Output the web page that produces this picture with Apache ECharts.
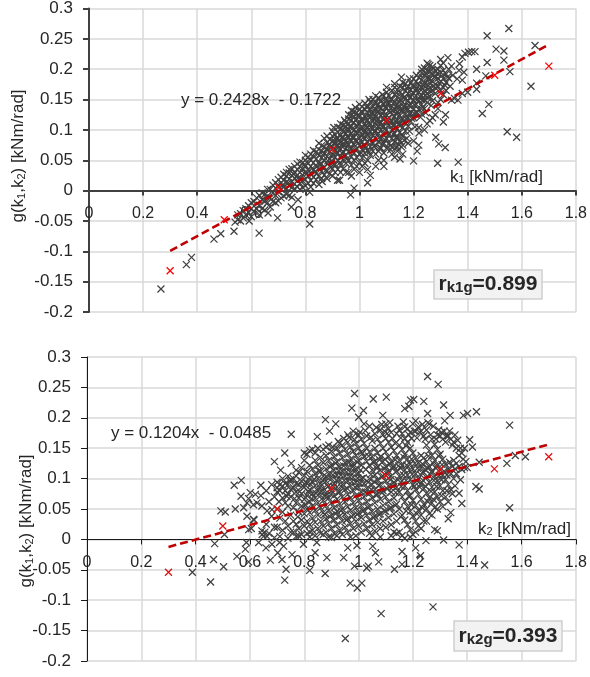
<!DOCTYPE html>
<html><head><meta charset="utf-8">
<script src="https://cdn.jsdelivr.net/npm/echarts@6/dist/echarts.min.js"></script>
<style>html,body{margin:0;padding:0;background:#fff}#c{width:590px;height:677px}</style></head>
<body><div id="c"></div>
<script>
const xTicksMin = 0, xTicksMax = 1.8, yTicksMin = -0.2, yTicksMax = 0.3;
const k1Outliers = [[.266,-.162],[.36,-.122],[.379,-.11],[.462,-.08],[.487,-.071],[.536,-.067],[.629,-.07],[.697,-.045],[.592,-.05],[.662,-.037],[.748,-.027],[1.552,.267],[1.472,.255],[1.649,.239],[1.505,.233],[1.534,.23],[1.534,.215],[1.472,.211],[1.556,.196],[1.433,.2],[1.467,.189],[1.634,.172],[1.433,.177],[1.433,.167],[1.478,.142],[1.454,.127],[1.546,.097],[1.581,.088],[1.365,.047],[1.289,.045],[1.317,.071],[1.293,.077],[1.282,.088],[1.2,.049],[1.213,.065],[1.219,.075],[1.219,.104],[1.318,.125],[1.31,.113],[1.03,.013],[.98,.004],[.967,-.007],[.919,.017],[.926,.017],[.816,-.055],[.773,-.015],[.816,-.003],[.862,.015],[1.327,.219],[1.155,.187],[1.254,.208],[1.38,.22],[1.39,.226],[1.403,.228],[1.415,.229],[1.427,.229],[1.37,.209],[1.368,.198],[1.386,.195],[1.361,.184],[1.38,.182],[1.351,.152],[1.34,.149],[1.364,.149],[1.38,.16],[1.4,.162],[1.07,.05],[1.09,.05],[1.12,.06],[1.13,.055],[1.15,.052],[1.16,.06],[1.14,.065],[1.09,.04],[1.06,.04],[1.03,.035],[1.04,.025]];
const k1Cloud = [[.54,-.052],[.55,-.048],[.55,-.04],[.56,-.05],[.56,-.038],[.57,-.045],[.57,-.033],[.58,-.04],[.58,-.03],[.59,-.036],[.59,-.025],[.6,-.043],[.6,-.03],[.6,-.02],[.61,-.034],[.61,-.018],[.62,-.03],[.62,-.012],[.63,-.04],[.63,-.024],[.63,-.008],[.64,-.03],[.64,-.015],[.64,-.004],[.65,-.032],[.65,-.018],[.65,-.006],[.66,-.02],[.66,-.009],[.66,.002],[.67,-.027],[.67,-.012],[.67,.002],[.68,-.018],[.68,-.004],[.68,.009],[.69,-.02],[.69,-.008],[.69,.004],[.69,.013],[.7,-.017],[.7,-.002],[.7,.009],[.7,.018],[.71,-.012],[.71,.002],[.71,.013],[.71,.022],[.72,-.009],[.72,.006],[.72,.017],[.72,.027],[.73,-.006],[.73,.004],[.73,.014],[.73,.024],[.73,.03],[.74,-.008],[.74,.008],[.74,.019],[.74,.029],[.74,.035],[.75,-.011],[.75,.005],[.75,.015],[.75,.025],[.75,.036],[.76,.003],[.76,.011],[.76,.02],[.76,.03],[.76,.04],[.77,.006],[.77,.016],[.77,.026],[.77,.035],[.77,.044],[.78,.002],[.78,.012],[.78,.02],[.78,.03],[.78,.04],[.78,.047],[.79,.005],[.79,.016],[.79,.026],[.79,.036],[.79,.046],[.8,.008],[.8,.018],[.8,.03],[.8,.04],[.8,.05],[.81,.012],[.81,.024],[.81,.034],[.81,.045],[.81,.055],[.82,.006],[.82,.017],[.82,.028],[.82,.04],[.82,.05],[.82,.06],[.83,.012],[.83,.022],[.83,.034],[.83,.046],[.83,.056],[.84,.018],[.84,.028],[.84,.04],[.84,.052],[.84,.064],[.85,.01],[.85,.024],[.85,.036],[.85,.047],[.85,.058],[.85,.068],[.86,.02],[.86,.032],[.86,.044],[.86,.054],[.86,.065],[.86,.074],[.87,.026],[.87,.038],[.87,.05],[.87,.062],[.87,.072],[.88,.02],[.88,.032],[.88,.044],[.88,.056],[.88,.068],[.88,.079],[.89,.028],[.89,.04],[.89,.052],[.89,.064],[.89,.076],[.89,.084],[.9,.024],[.9,.036],[.9,.048],[.9,.06],[.9,.072],[.9,.082],[.9,.09],[.91,.03],[.91,.043],[.91,.055],[.91,.068],[.91,.08],[.91,.092],[.92,.035],[.92,.05],[.92,.062],[.92,.074],[.92,.086],[.92,.096],[.93,.03],[.93,.042],[.93,.056],[.93,.068],[.93,.08],[.93,.092],[.93,.102],[.94,.036],[.94,.05],[.94,.064],[.94,.076],[.94,.088],[.94,.1],[.94,.108],[.95,.03],[.95,.045],[.95,.058],[.95,.07],[.95,.082],[.95,.094],[.95,.106],[.95,.112],[.96,.03],[.96,.05],[.96,.064],[.96,.076],[.96,.088],[.96,.1],[.96,.11],[.96,.118],[.97,.024],[.97,.042],[.97,.056],[.97,.07],[.97,.082],[.97,.094],[.97,.106],[.97,.116],[.97,.124],[.98,.035],[.98,.05],[.98,.062],[.98,.076],[.98,.088],[.98,.1],[.98,.112],[.98,.122],[.98,.13],[.99,.04],[.99,.055],[.99,.068],[.99,.082],[.99,.094],[.99,.106],[.99,.118],[.99,.128],[1,.03],[1,.046],[1,.06],[1,.074],[1,.086],[1,.098],[1,.11],[1,.122],[1,.134],[1.01,.04],[1.01,.054],[1.01,.068],[1.01,.08],[1.01,.092],[1.01,.104],[1.01,.116],[1.01,.128],[1.01,.138],[1.02,.045],[1.02,.062],[1.02,.074],[1.02,.086],[1.02,.098],[1.02,.11],[1.02,.122],[1.02,.134],[1.03,.05],[1.03,.066],[1.03,.08],[1.03,.092],[1.03,.104],[1.03,.116],[1.03,.128],[1.03,.14],[1.04,.058],[1.04,.072],[1.04,.086],[1.04,.098],[1.04,.11],[1.04,.122],[1.04,.134],[1.04,.146],[1.05,.065],[1.05,.078],[1.05,.09],[1.05,.102],[1.05,.114],[1.05,.126],[1.05,.138],[1.05,.15],[1.06,.06],[1.06,.074],[1.06,.086],[1.06,.098],[1.06,.11],[1.06,.122],[1.06,.134],[1.06,.146],[1.07,.065],[1.07,.08],[1.07,.094],[1.07,.106],[1.07,.118],[1.07,.13],[1.07,.142],[1.07,.153],[1.08,.07],[1.08,.086],[1.08,.1],[1.08,.112],[1.08,.124],[1.08,.136],[1.08,.148],[1.09,.062],[1.09,.078],[1.09,.092],[1.09,.106],[1.09,.118],[1.09,.13],[1.09,.142],[1.09,.156],[1.1,.07],[1.1,.086],[1.1,.1],[1.1,.112],[1.1,.124],[1.1,.136],[1.1,.148],[1.1,.162],[1.11,.078],[1.11,.094],[1.11,.108],[1.11,.12],[1.11,.132],[1.11,.144],[1.11,.156],[1.12,.072],[1.12,.086],[1.12,.1],[1.12,.114],[1.12,.126],[1.12,.138],[1.12,.15],[1.12,.165],[1.13,.08],[1.13,.094],[1.13,.108],[1.13,.122],[1.13,.134],[1.13,.146],[1.13,.158],[1.13,.17],[1.14,.088],[1.14,.102],[1.14,.116],[1.14,.13],[1.14,.142],[1.14,.154],[1.14,.166],[1.15,.082],[1.15,.096],[1.15,.11],[1.15,.124],[1.15,.138],[1.15,.15],[1.15,.162],[1.15,.172],[1.16,.09],[1.16,.104],[1.16,.118],[1.16,.132],[1.16,.146],[1.16,.158],[1.16,.17],[1.17,.098],[1.17,.112],[1.17,.126],[1.17,.14],[1.17,.152],[1.17,.164],[1.17,.176],[1.18,.106],[1.18,.12],[1.18,.134],[1.18,.148],[1.18,.16],[1.18,.172],[1.19,.114],[1.19,.128],[1.19,.142],[1.19,.154],[1.19,.166],[1.19,.178],[1.2,.12],[1.2,.134],[1.2,.148],[1.2,.16],[1.2,.172],[1.2,.184],[1.21,.128],[1.21,.142],[1.21,.156],[1.21,.168],[1.21,.18],[1.22,.134],[1.22,.148],[1.22,.162],[1.22,.174],[1.22,.186],[1.23,.126],[1.23,.142],[1.23,.156],[1.23,.17],[1.23,.182],[1.23,.194],[1.24,.135],[1.24,.15],[1.24,.164],[1.24,.178],[1.24,.19],[1.24,.202],[1.25,.145],[1.25,.16],[1.25,.174],[1.25,.186],[1.25,.198],[1.25,.21],[1.26,.155],[1.26,.17],[1.26,.184],[1.26,.196],[1.26,.206],[1.27,.148],[1.27,.165],[1.27,.18],[1.27,.192],[1.27,.204],[1.28,.16],[1.28,.175],[1.28,.188],[1.28,.198],[1.29,.145],[1.29,.172],[1.29,.185],[1.29,.2],[1.3,.165],[1.3,.18],[1.3,.195],[1.3,.206],[1.31,.17],[1.31,.184],[1.31,.198],[1.32,.178],[1.32,.192],[1.33,.185]];
const k1Fill = [[.713,.008],[.737,.013],[.757,.027],[.773,.021],[.786,.033],[.797,.043],[.807,.029],[.816,.052],[.826,.037],[.836,.031],[.847,.061],[.853,.043],[.866,.058],[.874,.033],[.877,.068],[.883,.049],[.893,.071],[.896,.057],[.904,.043],[.907,.077],[.913,.062],[.917,.087],[.923,.071],[.928,.046],[.934,.087],[.937,.061],[.943,.097],[.947,.076],[.953,.052],[.955,.089],[.963,.105],[.965,.071],[.973,.088],[.977,.112],[.984,.067],[.987,.097],[.993,.123],[.995,.078],[1.004,.103],[1.006,.062],[1.008,.131],[1.013,.087],[1.017,.117],[1.024,.071],[1.026,.097],[1.028,.137],[1.034,.112],[1.037,.083],[1.043,.127],[1.046,.093],[1.053,.073],[1.055,.118],[1.057,.143],[1.064,.103],[1.066,.13],[1.073,.087],[1.075,.113],[1.077,.147],[1.084,.127],[1.086,.076],[1.093,.101],[1.095,.137],[1.097,.152],[1.103,.117],[1.106,.091],[1.113,.129],[1.116,.151],[1.123,.107],[1.125,.143],[1.134,.087],[1.136,.127],[1.138,.161],[1.144,.109],[1.147,.146],[1.153,.131],[1.156,.092],[1.163,.153],[1.165,.113],[1.173,.135],[1.175,.169],[1.183,.127],[1.186,.153],[1.193,.119],[1.196,.173],[1.203,.141],[1.207,.165],[1.213,.129],[1.216,.176],[1.224,.155],[1.227,.189],[1.234,.137],[1.237,.173],[1.244,.157],[1.247,.193],[1.254,.167],[1.257,.183],[1.264,.163],[1.267,.198],[1.273,.172],[1.277,.187],[1.284,.168],[1.287,.193],[1.295,.177],[1.304,.189],[1.315,.174],[1.325,.187],[.985,.083],[1.005,.117],[1.015,.075],[1.035,.063],[1.055,.097],[1.075,.071],[1.095,.083],[1.115,.067],[1.125,.093],[1.145,.076],[1.165,.083],[1.185,.098],[1.205,.105],[1.225,.121],[1.245,.128],[1.265,.14],[1.115,.074],[1.135,.071],[1.155,.072],[1.175,.086]];
const k1Edge = [[.8,.058],[.83,.066],[.85,.078],[.87,.086],[.88,.09],[.9,.098],[.905,.104],[.92,.104],[.93,.11],[.945,.116],[.96,.125],[.97,.132],[.985,.137],[1,.142],[1.02,.144],[1.035,.15],[1.06,.156],[1.085,.158],[1.1,.17],[1.13,.176],[1.16,.178],[1.185,.184],[1.21,.19],[1.23,.2],[1.3,.216],[1.31,.21],[1.33,.2],[1.335,.172],[1.345,.19],[1.34,.205],[1.32,.165],[1.31,.158],[1.3,.15],[1.29,.135],[1.28,.125],[1.27,.12],[1.26,.115],[1.25,.11],[1.24,.1],[1.22,.095],[1.2,.082],[1.18,.078],[1.16,.075],[1.14,.072],[.915,.074],[.925,.083],[.935,.073],[.945,.085],[.955,.098],[.965,.083],[.975,.103],[.995,.111],[1.012,.098],[1.022,.106],[1.032,.123],[1.042,.104],[1.052,.133],[1.062,.115],[1.072,.137],[1.082,.106],[1.092,.124],[1.102,.143],[1.112,.113],[1.122,.132],[1.132,.115],[1.142,.137],[1.152,.117],[1.162,.139],[1.172,.119],[1.182,.141],[1.192,.159],[1.202,.127],[1.212,.149],[1.222,.168],[1.232,.149],[1.242,.171],[1.252,.153],[1.262,.176]];
const k2Outliers = [[1.254,.268],[1.293,.255],[.985,.24],[1.054,.231],[1.102,.234],[.975,.216],[1.018,.212],[.878,.197],[.916,.19],[.893,.178],[.848,.169],[1.089,.204],[1,.201],[1.191,.229],[1.203,.23],[1.24,.227],[1.185,.219],[1.17,.215],[1.313,.221],[1.254,.207],[1.337,.204],[1.317,.195],[1.386,.204],[1.401,.207],[1.434,.21],[1.556,.188],[1.409,.164],[1.419,.152],[1.444,.127],[1.577,.138],[1.614,.136],[1.546,.125],[1.432,.087],[1.444,.083],[1.556,.052],[1.37,.076],[1.38,.059],[1.339,.044],[1.33,.034],[1.248,-.002],[1.313,-.001],[1.37,-.009],[1.464,-.042],[1.274,-.111],[1.083,-.122],[.951,-.163],[.969,-.072],[1.012,-.072],[.995,-.08],[.877,-.056],[.82,-.051],[1.132,-.049],[1.16,-.041],[1.03,-.047],[1.036,-.044],[.985,-.044],[1.074,-.037],[1.062,-.022],[1.052,-.011],[1.16,-.02],[1.21,-.014],[1.228,-.027],[.945,-.03],[.96,-.014],[.994,-.01],[.883,-.03],[.84,-.022],[.797,-.008],[.846,-.005],[.752,.173],[.728,.142],[.69,.128],[.752,.125],[.713,.114],[.568,.097],[.542,.089],[.64,.089],[.567,.071],[.493,.047],[.509,.045],[.546,.05],[.577,.052],[.601,.077],[.62,.074],[.589,.06],[.595,.067],[.613,.057],[.589,.038],[.613,.033],[.595,.016],[.626,.06],[.644,.055],[.663,.047],[.681,.049],[.644,.014],[.65,.005],[.663,.005],[.506,.008],[.47,-.007],[.466,-.033],[.503,-.045],[.388,-.054],[.455,-.07],[.587,-.005],[.583,-.016],[.552,-.028],[.595,-.037],[.632,-.005],[.659,-.014],[.681,-.008],[.675,-.034],[.702,-.022],[.718,-.033],[.733,-.049],[.728,-.067],[.709,-.005],[.724,-.011],[.755,-.025],[.605,.018],[.615,.032],[.645,.008],[.655,.012]];
const k2Cloud = [[.7,.02],[.7,.05],[.7,.078],[.7,.085],[.71,.005],[.71,.035],[.71,.08],[.71,.09],[.72,.015],[.72,.045],[.72,.068],[.72,.088],[.73,.03],[.73,.06],[.73,.08],[.73,.092],[.74,.002],[.74,.022],[.74,.055],[.74,.075],[.74,.09],[.75,.012],[.75,.04],[.75,.07],[.75,.082],[.75,.098],[.76,.03],[.76,.052],[.76,.085],[.76,.1],[.77,.005],[.77,.025],[.77,.06],[.77,.078],[.77,.092],[.77,.104],[.78,.018],[.78,.045],[.78,.068],[.78,.09],[.78,.11],[.79,.008],[.79,.032],[.79,.055],[.79,.075],[.79,.096],[.79,.118],[.8,.022],[.8,.042],[.8,.066],[.8,.086],[.8,.105],[.8,.13],[.81,.01],[.81,.03],[.81,.05],[.81,.072],[.81,.092],[.81,.112],[.81,.14],[.82,.004],[.82,.024],[.82,.044],[.82,.062],[.82,.082],[.82,.102],[.82,.122],[.82,.146],[.83,.015],[.83,.035],[.83,.055],[.83,.075],[.83,.095],[.83,.116],[.83,.148],[.84,.006],[.84,.028],[.84,.048],[.84,.068],[.84,.088],[.84,.108],[.84,.13],[.85,.018],[.85,.04],[.85,.06],[.85,.08],[.85,.1],[.85,.122],[.85,.15],[.86,.01],[.86,.03],[.86,.052],[.86,.072],[.86,.092],[.86,.112],[.86,.135],[.87,.022],[.87,.044],[.87,.064],[.87,.084],[.87,.104],[.87,.126],[.87,.148],[.88,.012],[.88,.034],[.88,.056],[.88,.076],[.88,.096],[.88,.116],[.88,.138],[.89,.004],[.89,.026],[.89,.048],[.89,.068],[.89,.088],[.89,.108],[.89,.13],[.89,.155],[.9,.018],[.9,.04],[.9,.06],[.9,.08],[.9,.1],[.9,.122],[.9,.145],[.91,.01],[.91,.032],[.91,.052],[.91,.072],[.91,.092],[.91,.114],[.91,.136],[.92,.024],[.92,.046],[.92,.066],[.92,.086],[.92,.106],[.92,.128],[.92,.15],[.93,.015],[.93,.038],[.93,.058],[.93,.078],[.93,.098],[.93,.12],[.93,.142],[.94,.008],[.94,.03],[.94,.05],[.94,.07],[.94,.09],[.94,.112],[.94,.134],[.94,.155],[.95,.02],[.95,.042],[.95,.062],[.95,.082],[.95,.104],[.95,.126],[.95,.148],[.96,.012],[.96,.034],[.96,.054],[.96,.074],[.96,.096],[.96,.118],[.96,.14],[.96,.16],[.97,.004],[.97,.026],[.97,.048],[.97,.068],[.97,.088],[.97,.11],[.97,.132],[.97,.152],[.98,.018],[.98,.04],[.98,.06],[.98,.08],[.98,.102],[.98,.124],[.98,.145],[.98,.178],[.99,.006],[.99,.03],[.99,.052],[.99,.072],[.99,.094],[.99,.116],[.99,.138],[.99,.158],[1,.022],[1,.044],[1,.064],[1,.086],[1,.108],[1,.13],[1,.15],[1,.172],[1.01,.012],[1.01,.036],[1.01,.056],[1.01,.078],[1.01,.1],[1.01,.122],[1.01,.144],[1.01,.165],[1.02,.026],[1.02,.048],[1.02,.07],[1.02,.092],[1.02,.136],[1.02,.158],[1.02,.19],[1.03,.018],[1.03,.04],[1.03,.062],[1.03,.084],[1.03,.128],[1.03,.15],[1.03,.17],[1.04,.01],[1.04,.032],[1.04,.054],[1.04,.076],[1.04,.1],[1.04,.122],[1.04,.144],[1.04,.186],[1.05,.024],[1.05,.046],[1.05,.068],[1.05,.09],[1.05,.114],[1.05,.136],[1.05,.162],[1.06,.014],[1.06,.038],[1.06,.06],[1.06,.082],[1.06,.106],[1.06,.128],[1.06,.15],[1.06,.174],[1.07,.028],[1.07,.05],[1.07,.074],[1.07,.098],[1.07,.12],[1.07,.142],[1.07,.165],[1.08,.018],[1.08,.042],[1.08,.066],[1.08,.09],[1.08,.114],[1.08,.136],[1.08,.158],[1.08,.18],[1.09,.03],[1.09,.056],[1.09,.08],[1.09,.104],[1.09,.128],[1.09,.15],[1.09,.172],[1.1,.02],[1.1,.046],[1.1,.07],[1.1,.096],[1.1,.12],[1.1,.144],[1.1,.166],[1.1,.19],[1.11,.036],[1.11,.062],[1.11,.088],[1.11,.112],[1.11,.136],[1.11,.16],[1.11,.182],[1.12,.024],[1.12,.052],[1.12,.078],[1.12,.104],[1.12,.128],[1.12,.152],[1.12,.176],[1.13,.012],[1.13,.042],[1.13,.068],[1.13,.094],[1.13,.12],[1.13,.146],[1.14,.03],[1.14,.058],[1.14,.086],[1.14,.112],[1.14,.138],[1.15,.012],[1.15,.05],[1.15,.078],[1.15,.104],[1.15,.13],[1.15,.155],[1.15,.18],[1.16,.006],[1.16,.04],[1.16,.07],[1.16,.096],[1.16,.122],[1.16,.148],[1.16,.174],[1.17,.002],[1.17,.032],[1.17,.062],[1.17,.088],[1.17,.114],[1.17,.14],[1.17,.166],[1.17,.185],[1.18,.024],[1.18,.054],[1.18,.08],[1.18,.106],[1.18,.132],[1.18,.16],[1.18,.182],[1.19,.016],[1.19,.046],[1.19,.072],[1.19,.098],[1.19,.124],[1.19,.15],[1.19,.176],[1.2,.008],[1.2,.038],[1.2,.064],[1.2,.09],[1.2,.116],[1.2,.142],[1.2,.19],[1.21,.03],[1.21,.056],[1.21,.082],[1.21,.108],[1.21,.134],[1.21,.178],[1.21,.195],[1.22,.022],[1.22,.048],[1.22,.074],[1.22,.1],[1.22,.126],[1.22,.185],[1.23,.04],[1.23,.066],[1.23,.092],[1.23,.118],[1.23,.138],[1.23,.178],[1.24,.03],[1.24,.058],[1.24,.084],[1.24,.11],[1.24,.134],[1.24,.17],[1.25,.05],[1.25,.076],[1.25,.102],[1.25,.128],[1.25,.155],[1.25,.18],[1.26,.042],[1.26,.068],[1.26,.094],[1.26,.12],[1.26,.146],[1.26,.19],[1.27,.06],[1.27,.086],[1.27,.112],[1.27,.138],[1.27,.165],[1.28,.016],[1.28,.052],[1.28,.078],[1.28,.104],[1.28,.13],[1.28,.156],[1.29,.014],[1.29,.07],[1.29,.096],[1.29,.122],[1.29,.148],[1.29,.172],[1.3,.062],[1.3,.088],[1.3,.114],[1.3,.14],[1.3,.17],[1.31,.054],[1.31,.08],[1.31,.106],[1.31,.132],[1.31,.165],[1.32,.07],[1.32,.098],[1.32,.124],[1.32,.16],[1.33,.062],[1.33,.09],[1.33,.116],[1.33,.17],[1.34,.082],[1.34,.108],[1.34,.165],[1.35,.1],[1.35,.13],[1.35,.16],[1.36,.108],[1.36,.125],[1.36,.15],[1.37,.12],[1.37,.138],[1.38,.115],[1.38,.142],[1.39,.118],[1.39,.15],[1.4,.118]];
const k2Fill = [[.707,.062],[.736,.071],[.747,.096],[.764,.067],[.776,.037],[.783,.079],[.794,.088],[.803,.057],[.807,.094],[.815,.078],[.824,.09],[.827,.067],[.836,.099],[.843,.076],[.854,.113],[.856,.086],[.864,.079],[.867,.097],[.876,.071],[.884,.102],[.887,.087],[.895,.119],[.897,.074],[.905,.106],[.908,.087],[.915,.125],[.918,.097],[.925,.077],[.927,.113],[.935,.106],[.938,.086],[.945,.121],[.947,.097],[.955,.111],[.958,.084],[.965,.127],[.967,.103],[.975,.095],[.977,.119],[.985,.111],[.987,.086],[.995,.127],[.997,.101],[1.005,.092],[1.007,.114],[1.014,.141],[1.017,.101],[1.025,.078],[1.027,.115],[1.035,.094],[1.037,.137],[1.045,.107],[1.047,.082],[1.055,.127],[1.057,.095],[1.065,.073],[1.067,.117],[1.075,.089],[1.077,.131],[1.085,.103],[1.087,.077],[1.095,.116],[1.097,.132],[1.105,.083],[1.107,.107],[1.115,.124],[1.117,.098],[1.125,.116],[1.127,.087],[1.135,.131],[1.137,.077],[1.145,.098],[1.147,.121],[1.155,.117],[1.157,.087],[1.165,.106],[1.167,.135],[1.175,.097],[1.177,.122],[1.185,.071],[1.187,.114],[1.195,.132],[1.197,.107],[1.205,.087],[1.207,.125],[1.215,.096],[1.217,.117],[1.225,.086],[1.227,.107],[1.235,.124],[1.237,.097],[1.245,.115],[1.247,.087],[1.255,.117],[1.257,.137],[1.265,.107],[1.267,.079],[1.275,.125],[1.277,.097],[1.285,.117],[1.287,.087],[1.295,.137],[1.297,.105],[1.305,.098],[1.307,.123],[1.315,.112],[1.325,.106],[1.335,.127],[1.345,.12],[1.355,.116],[.875,.041],[.895,.037],[.915,.042],[.935,.047],[.955,.032],[.975,.037],[.995,.041],[1.015,.047],[1.035,.052],[1.055,.036],[1.075,.041],[1.095,.047],[1.115,.051],[1.135,.056],[1.155,.037],[1.175,.047],[1.195,.057],[1.215,.042],[1.235,.052],[1.255,.062],[1.275,.066]];
const k2Upper = [[.905,.152],[.925,.161],[.945,.166],[.965,.168],[.985,.164],[1.005,.176],[1.025,.179],[1.045,.168],[1.065,.184],[1.085,.189],[1.095,.178],[1.105,.174],[1.115,.192],[1.125,.166],[1.135,.158],[1.14,.174],[1.145,.186],[1.155,.167],[1.165,.193],[1.175,.154],[1.185,.172],[1.195,.166],[1.205,.178],[1.215,.167],[1.225,.176],[1.235,.189],[1.245,.165],[1.255,.192],[1.265,.172],[1.275,.186],[1.285,.165],[1.295,.18],[1.305,.176],[1.315,.178],[1.325,.17],[1.335,.178],[1.345,.155],[1.355,.172],[1.365,.163],[1.375,.15],[1.385,.132],[1.395,.128],[1.375,.098],[1.355,.088],[1.345,.075],[1.325,.08],[1.305,.072],[1.29,.05],[1.27,.04],[1.25,.03],[1.23,.018],[1.21,.012],[1.19,.004],[1.14,.01],[1.12,.006],[1.08,.004],[1.05,.006],[.92,.006],[.9,.003],[.87,.008],[.82,.012],[.78,.006],[.76,.012],[.99,.174],[.96,.172],[.93,.158],[.88,.152],[.84,.142],[.8,.142],[.77,.114],[.74,.104],[.72,.1],[.7,.094],[.68,.09],[.66,.08],[.64,.072],[.67,.062],[.69,.07],[.68,.038],[.66,.025],[.69,.02],[.67,.01],[.69,.003]];
const k1Means = [[.3,-.132],[.5,-.048],[.7,.006],[.9,.068],[1.1,.116],[1.3,.16],[1.5,.19],[1.7,.205]];
const k2Means = [[.3,-.054],[.5,.022],[.7,.05],[.9,.084],[1.1,.105],[1.3,.115],[1.5,.116],[1.7,.136]];
const k1Trend = [[.3,-.0994],[1.7,.2406]];
const k2Trend = [[.3,-.0124],[1.7,.1562]];

const FONT = '"Liberation Sans", Arial, sans-serif';
const cross = 'path://M0 0L10 10M10 0L0 10';
const GRID = '#d9d9d9';
function xAxis(i, line, lw){ return {
  type:'value', gridIndex:i, min:xTicksMin, max:xTicksMax, interval:.2,
  axisLine:{onZero:true, lineStyle:{color:line, width:lw}},
  axisTick:{show:true, inside:false, length:5, lineStyle:{color:line, width:lw}},
  axisLabel:{color:'#262626', fontFamily:FONT, fontSize:16, margin:-106, hideOverlap:false, showMinLabel:true, showMaxLabel:true, formatter:v=>String(+v.toFixed(1))},
  splitLine:{show:true, lineStyle:{color:GRID, width:1.5}}
};}
function yAxis(i, line, lw){ return {
  type:'value', gridIndex:i, min:yTicksMin, max:yTicksMax, interval:.05,
  axisLine:{onZero:false, lineStyle:{color:line, width:lw}},
  axisTick:{show:true, inside:false, length:6, lineStyle:{color:line, width:lw}},
  axisLabel:{color:'#262626', fontFamily:FONT, fontSize:17, margin:16, hideOverlap:false, showMinLabel:true, showMaxLabel:true, formatter:v=>String(+v.toFixed(2))},
  splitLine:{show:true, lineStyle:{color:GRID, width:1.5}}
};}
function scatter(i, data, color, z){ return {
  type:'scatter', xAxisIndex:i, yAxisIndex:i, data, symbol:cross, symbolSize:7, z, silent:true, animation:false, large:false,
  itemStyle:{color:'rgba(0,0,0,0)', borderColor:color, borderWidth:1.25, opacity:1}
};}
function trend(i, data){ return {
  type:'line', xAxisIndex:i, yAxisIndex:i, data, symbol:'none', z:6, silent:true, animation:false,
  lineStyle:{color:'#c00000', width:2.6, type:[8,4]}
};}
function text(x,y,t,size){ return {type:'text', x, y, z:20, silent:true, style:{text:t, fontFamily:FONT, fontSize:size, fill:'#262626'}}; }
function yTitle(cx, cy){ return {type:'text', x:cx, y:cy, rotation:Math.PI/2, z:20, silent:true, style:{
  text:'{a|g(k}{b|1}{a|,k}{b|2}{a|) [kNm/rad]}', align:'center', verticalAlign:'middle',
  rich:{a:{fontFamily:FONT,fontSize:17,fill:'#262626'}, b:{fontFamily:FONT,fontSize:11,fill:'#262626',padding:[8,0,0,0]}}
}};}
function box(x,y,w,h,label,sb,val){ return [
  {type:'rect', z:19, silent:true, shape:{x,y,width:w,height:h}, style:{fill:'#f2f2f2', stroke:'#d0d0d0', lineWidth:1.5}},
  {type:'text', z:20, silent:true, x:x+w/2, y:y+h/2, style:{align:'center', verticalAlign:'middle',
    text:'{a|'+label+'}{b|'+sb+'}{a|='+val+'}',
    rich:{a:{fontFamily:FONT,fontSize:21,fontWeight:'bold',fill:'#262626'}, b:{fontFamily:FONT,fontSize:15,fontWeight:'bold',fill:'#262626',padding:[7,0,0,0]}}}}
];}
function xName(x,y,sb){ return {type:'text', z:20, silent:true, x, y, style:{align:'left', verticalAlign:'middle',
  text:'{a|k}{b|'+sb+'}{a| [kNm/rad]}',
  rich:{a:{fontFamily:FONT,fontSize:17,fill:'#262626'}, b:{fontFamily:FONT,fontSize:11,fill:'#262626',padding:[6,0,0,0]}}}}; }

const chart = echarts.init(document.getElementById('c'), null, {renderer:'canvas'});
chart.setOption({
  animation:false, backgroundColor:'#fff',
  grid:[
    {left:89, width:487, top:7, height:305},
    {left:87, width:489, top:357, height:304}
  ],
  xAxis:[xAxis(0,'#404040',2), xAxis(1,'#1a1a1a',1)],
  yAxis:[yAxis(0,'#404040',2), yAxis(1,'#1a1a1a',1)],
  series:[
    scatter(0,k1Cloud,'#404040',3), scatter(0,k1Fill,'#404040',3), scatter(0,k1Edge,'#404040',3), scatter(0,k1Outliers,'#404040',3), trend(0,k1Trend), scatter(0,k1Means,'#ff0000',7),
    scatter(1,k2Cloud,'#404040',3), scatter(1,k2Fill,'#404040',3), scatter(1,k2Upper,'#404040',3), scatter(1,k2Outliers,'#404040',3), trend(1,k2Trend), scatter(1,k2Means,'#e01010',7)
  ],
  graphic:[
    yTitle(18,156), yTitle(26,521),
    text(181,92,'y = 0.2428x  - 0.1722',17),
    text(111,425,'y = 0.1204x  - 0.0485',17),
    xName(450,177,'1'), xName(478,529,'2'),
    ...box(434,270,108,29,'r','k1g','0.899'),
    ...box(454,621,108,30,'r','k2g','0.393')
  ]
});
</script></body></html>
